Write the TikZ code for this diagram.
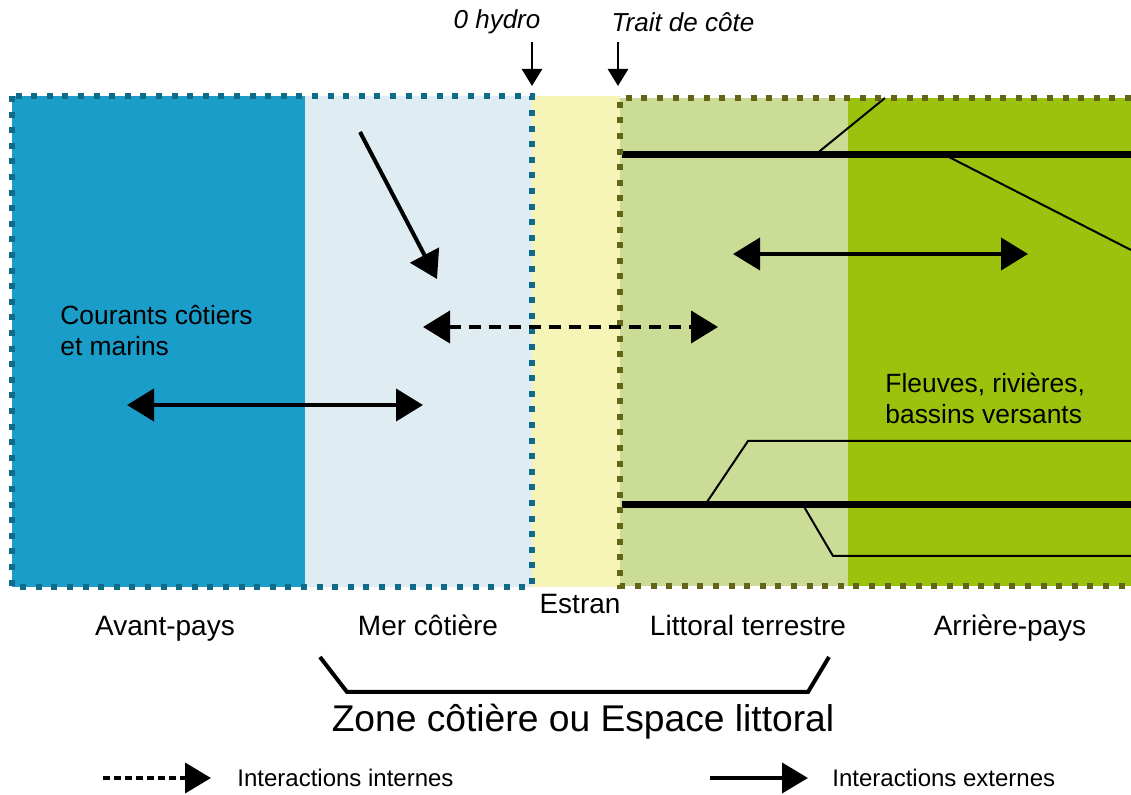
\documentclass[tikz,border=0pt]{standalone}
\usepackage{fontspec}
\setmainfont{Liberation Sans}
\usetikzlibrary{arrows.meta}
\definecolor{seadeep}{HTML}{1A9DC9}
\definecolor{seanear}{HTML}{DFECF1}
\definecolor{seaedge}{HTML}{0E6B8A}
\definecolor{sand}{HTML}{F7F4B8}
\definecolor{landnear}{HTML}{CADC96}
\definecolor{landfar}{HTML}{9CC20E}
\definecolor{landedge}{HTML}{646419}
\tikzset{
  zoneborder/.style={line width=3pt, dash pattern=on 3pt off 4.8pt},
  flux/.style={line width=2pt, {Triangle[length=13.5pt,width=16pt]}-{Triangle[length=13.5pt,width=16pt]}},
  oneway/.style={line width=2pt, -{Triangle[length=13.5pt,width=16pt]}},
  internal/.style={flux, dash pattern=on 6pt off 4pt},
  river/.style={line width=3.5pt},
  stream/.style={line width=1pt},
  marker/.style={line width=1.4pt, -{Triangle[length=8.5pt,width=10pt]}},
  lbl/.style={font=\fontsize{14}{16}\selectfont, inner sep=0pt, anchor=base},
  txt/.style={font=\fontsize{13.2}{15.5}\selectfont, inner sep=0pt, align=left, anchor=west},
  legend/.style={font=\fontsize{12}{14}\selectfont, inner sep=0pt, anchor=west}
}
\begin{document}
\begin{tikzpicture}[x=0.5pt,y=-0.5pt]
  \useasboundingbox (0,0) rectangle (1131,795);
  \fill[seadeep] (12,96) rectangle (305,587); \fill[seanear] (305,96) rectangle (532,587);
  \fill[sand] (532,96) rectangle (620,587);
  \fill[landnear] (620,98) rectangle (848,586); \fill[landfar] (848,98) rectangle (1131,586);
  \coordinate (r1a) at (622,155); \coordinate (r1b) at (1131,155);
  \coordinate (s1a) at (815,155); \coordinate (s1b) at (885,98);
  \coordinate (s2a) at (945,155); \coordinate (s2b) at (1131,250);
  \draw[river] (r1a) -- (r1b); \draw[stream] (s1a) -- (s1b); \draw[stream] (s2a) -- (s2b);
  \coordinate (r2a) at (622,505); \coordinate (r2b) at (1131,505);
  \coordinate (s3a) at (705,505); \coordinate (s3b) at (748,441); \coordinate (s3c) at (1131,441);
  \coordinate (s4a) at (803,505); \coordinate (s4b) at (833,556); \coordinate (s4c) at (1131,556);
  \draw[river] (r2a) -- (r2b); \draw[stream] (s3a) -- (s3b) -- (s3c); \draw[stream] (s4a) -- (s4b) -- (s4c);
  \draw[zoneborder, seaedge] (12,96) rectangle (532,587);
  \draw[zoneborder, landedge] (1131,98) -- (620,98) -- (620,586) -- (1131,586);
  \node (hydro) at (497,22) {\fontsize{13}{15}\selectfont\itshape 0 hydro};
  \node (trait) at (683,22) {\fontsize{13}{15}\selectfont\itshape Trait de côte};
  \coordinate (h1) at (532,42); \coordinate (h2) at (532,86);
  \coordinate (t1) at (618,42); \coordinate (t2) at (618,86);
  \draw[marker] (h1) -- (h2); \draw[marker] (t1) -- (t2);
  \coordinate (d1) at (360,132); \coordinate (d2) at (437,279);
  \draw[oneway] (d1) -- (d2);
  \coordinate (i1) at (423,327); \coordinate (i2) at (718,327);
  \draw[internal] (i1) -- (i2);
  \coordinate (m1) at (127,405); \coordinate (m2) at (423,405);
  \draw[flux] (m1) -- (m2);
  \coordinate (l1) at (733,254); \coordinate (l2) at (1028,254);
  \draw[flux] (l1) -- (l2);
  \node[txt] (courants) at (60,331) {Courants côtiers\\et marins};
  \node[txt] (fleuves) at (885,398) {Fleuves, rivières,\\bassins versants};
  \node[lbl] (avant) at (165,636) {Avant-pays}; \node[lbl] (mer) at (428,636) {Mer côtière};
  \node[lbl] (estran) at (580,614) {Estran}; \node[lbl] (littoral) at (748,636) {Littoral terrestre};
  \node[lbl] (arriere) at (1010,636) {Arrière-pays};
  \coordinate (b1) at (320,657); \coordinate (b2) at (347,692); \coordinate (b3) at (808,692); \coordinate (b4) at (829,657);
  \draw[line width=2pt] (b1) -- (b2) -- (b3) -- (b4);
  \node (zone) at (583,722) {\fontsize{18.6}{21}\selectfont Zone côtière ou Espace littoral};
  \coordinate (k1) at (103,778); \coordinate (k2) at (211,778);
  \draw[line width=2pt, dash pattern=on 3.5pt off 2pt, -{Triangle[length=13pt,width=15pt]}] (k1) -- (k2);
  \node[legend] (interne) at (237,778) {Interactions internes};
  \coordinate (e1) at (710,778); \coordinate (e2) at (808,778);
  \draw[line width=2pt, -{Triangle[length=13pt,width=15pt]}] (e1) -- (e2);
  \node[legend] (externe) at (832,778) {Interactions externes};
\end{tikzpicture}
\end{document}
